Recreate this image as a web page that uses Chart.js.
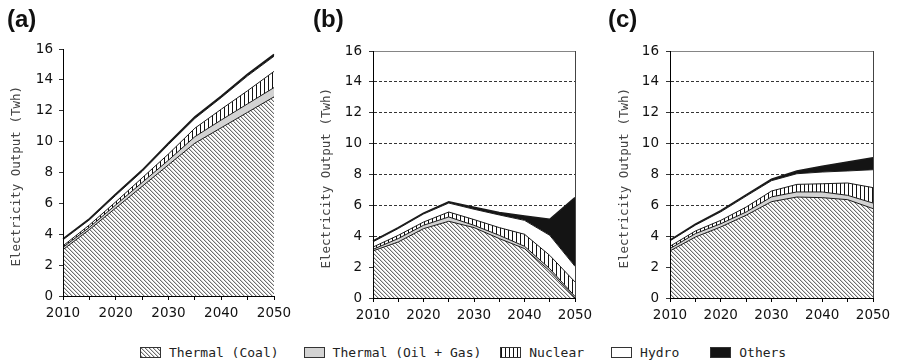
<!DOCTYPE html>
<html>
<head>
<meta charset="utf-8">
<script src="https://cdn.jsdelivr.net/npm/chart.js@4.4.1/dist/chart.umd.min.js"></script>
<style>
  html, body { margin: 0; padding: 0; background: #fff; }
  #wrap { position: relative; width: 898px; height: 364px; overflow: hidden; background: #fff; }
  canvas.plot { position: absolute; top: 0; }
  .tag { position: absolute; top: 7px; font: bold 24px "Liberation Sans", Arial, sans-serif; line-height: 24px; color: #111; }
  #legend { position: absolute; left: 140px; top: 344px; height: 16px; display: flex; align-items: center;
            font: 13px "DejaVu Sans Mono", monospace; color: #222; white-space: pre; }
  #legend .item { display: flex; align-items: center; }
  #legend canvas { border: 1px solid #333; margin-right: 8px; }
</style>
</head>
<body>
<div id="wrap">
  <canvas id="chartA" class="plot" width="300" height="330" style="left:0px"></canvas>
  <canvas id="chartB" class="plot" width="300" height="330" style="left:300px"></canvas>
  <canvas id="chartC" class="plot" width="298" height="330" style="left:600px"></canvas>
  <div class="tag" style="left:7px">(a)</div>
  <div class="tag" style="left:313px">(b)</div>
  <div class="tag" style="left:608px">(c)</div>
  <div id="legend"></div>
</div>
<script>
// Years on the horizontal axis (every 5 years, labelled every 10)
const years = ['2010', '2015', '2020', '2025', '2030', '2035', '2040', '2045', '2050'];
const seriesNames = ['Thermal (Coal)', 'Thermal (Oil + Gas)', 'Nuclear', 'Hydro', 'Others'];
const axisTitle = 'Electricity Output (Twh)';

// Scenario (a) — TWh by source
const coalA    = [3.00, 4.30, 5.70, 7.10, 8.50, 9.90, 10.90, 11.90, 12.90];
const oilGasA  = [0.15, 0.15, 0.20, 0.25, 0.30, 0.42, 0.50, 0.55, 0.60];
const nuclearA = [0.10, 0.15, 0.20, 0.30, 0.40, 0.55, 0.70, 0.85, 1.05];
const hydroA   = [0.39, 0.33, 0.42, 0.42, 0.61, 0.63, 0.75, 0.96, 0.98];
const othersA  = [0.06, 0.07, 0.08, 0.08, 0.09, 0.10, 0.10, 0.12, 0.12];

// Scenario (b)
const coalB    = [3.05, 3.63, 4.49, 4.97, 4.56, 3.85, 3.20, 1.75, 0.00];
const oilGasB  = [0.10, 0.22, 0.22, 0.28, 0.15, 0.21, 0.15, 0.15, 0.10];
const nuclearB = [0.15, 0.21, 0.21, 0.32, 0.37, 0.50, 0.78, 0.86, 0.94];
const hydroB   = [0.34, 0.44, 0.52, 0.58, 0.67, 0.82, 0.90, 1.30, 1.01];
const othersB  = [0.05, 0.06, 0.06, 0.08, 0.12, 0.16, 0.28, 1.04, 4.45];

// Scenario (c)
const coalC    = [3.05, 3.95, 4.60, 5.36, 6.24, 6.54, 6.50, 6.37, 5.79];
const oilGasC  = [0.15, 0.22, 0.21, 0.21, 0.31, 0.33, 0.37, 0.28, 0.36];
const nuclearC = [0.15, 0.17, 0.22, 0.32, 0.38, 0.49, 0.53, 0.80, 1.00];
const hydroC   = [0.35, 0.38, 0.55, 0.71, 0.67, 0.69, 0.76, 0.78, 1.16];
const othersC  = [0.05, 0.06, 0.07, 0.08, 0.10, 0.18, 0.37, 0.58, 0.78];

// Fill patterns: diagonal hatch for coal, vertical bars for nuclear
function makePattern(ctx, kind) {
  const n = 4;
  const t = document.createElement('canvas');
  t.width = n; t.height = n;
  const g = t.getContext('2d');
  g.fillStyle = '#fff';
  g.fillRect(0, 0, n, n);
  if (kind === 'diag') {
    for (let i = 0; i < n; i++) {
      g.fillStyle = '#6e6e6e';
      g.fillRect(i, i, 1, 1);
      g.fillStyle = '#d2d2d2';
      g.fillRect((i + 1) % n, i, 1, 1);
    }
  } else if (kind === 'vert') {
    g.fillStyle = '#111';
    g.fillRect(0, 0, 1, n);
  }
  return ctx.createPattern(t, 'repeat');
}
function fillsFor(ctx) {
  return [makePattern(ctx, 'diag'), '#d3d3d3', makePattern(ctx, 'vert'), '#ffffff', '#141414'];
}

// Right-hand frame line for the gridded panels
const framePlugin = {
  id: 'frame',
  afterDatasetsDraw(chart, args, opts) {
    if (!opts.show) return;
    const { ctx, chartArea: a } = chart;
    ctx.save();
    ctx.strokeStyle = '#444';
    ctx.lineWidth = 1;
    ctx.beginPath();
    ctx.moveTo(Math.round(a.right) + 0.5, a.top);
    ctx.lineTo(Math.round(a.right) + 0.5, a.bottom);
    ctx.stroke();
    ctx.restore();
  }
};

const tickFont = { family: 'DejaVu Sans', size: 13.5 };

function buildChart(id, series, o) {
  const ctx = document.getElementById(id).getContext('2d');
  const fills = fillsFor(ctx);
  const datasets = series.map((data, i) => ({
    label: seriesNames[i],
    data: data,
    fill: i === 0 ? 'origin' : '-1',
    backgroundColor: fills[i],
    borderColor: '#1a1a1a',
    borderWidth: i === 4 ? 1.6 : 1,
    pointRadius: 0,
    tension: 0
  }));
  return new Chart(ctx, {
    type: 'line',
    data: { labels: years, datasets: datasets },
    plugins: [framePlugin],
    options: {
      responsive: false,
      animation: false,
      devicePixelRatio: 1,
      events: [],
      layout: { padding: { left: 0, right: o.right, top: o.top, bottom: 0 } },
      plugins: {
        legend: { display: false },
        tooltip: { enabled: false },
        frame: { show: o.grid }
      },
      scales: {
        x: {
          type: 'category',
          offset: false,
          grid: { display: true, drawOnChartArea: false, drawTicks: true, tickLength: 4, tickColor: '#000', tickWidth: 1 },
          border: { display: true, color: '#000', width: 1, z: 1 },
          ticks: {
            autoSkip: false, maxRotation: 0, minRotation: 0, padding: 5,
            color: '#111', font: tickFont,
            callback(value, index) { return index % 2 === 0 ? this.getLabelForValue(value) : ''; }
          },
          afterFit(scale) { scale.height = o.xh; }
        },
        y: {
          stacked: true,
          min: 0, max: 16,
          ticks: { stepSize: 2, padding: o.tickPad, color: '#111', font: tickFont },
          grid: {
            display: true,
            drawOnChartArea: o.grid,
            drawTicks: true,
            tickLength: 4,
            tickColor: '#000',
            tickBorderDash: [],
            lineWidth: 0.8,
            color: (c) => (c.tick && c.tick.value === 16) ? '#666' : '#000'
          },
          border: {
            display: true, color: '#000', width: 1, z: 1,
            dash: (c) => (c.tick && c.tick.value === 16) ? [] : [3, 2]
          },
          title: {
            display: true,
            text: axisTitle + ' ',
            color: '#444',
            font: { family: 'DejaVu Sans Mono', size: 12.5 },
            padding: { top: o.titlePad, bottom: 0 }
          },
          afterFit(scale) { scale.width = o.yw; }
        }
      }
    }
  });
}

buildChart('chartA', [coalA, oilGasA, nuclearA, hydroA, othersA],
  { grid: false, top: 49, right: 26, yw: 63, xh: 34, tickPad: 6, titlePad: 9.5 });
buildChart('chartB', [coalB, oilGasB, nuclearB, hydroB, othersB],
  { grid: true, top: 51, right: 25, yw: 73, xh: 32, tickPad: 7, titlePad: 19 });
buildChart('chartC', [coalC, oilGasC, nuclearC, hydroC, othersC],
  { grid: true, top: 51, right: 25, yw: 70, xh: 32, tickPad: 7, titlePad: 17 });

// Shared legend below the three panels
(function () {
  const legend = document.getElementById('legend');
  const gaps = [25, 19, 27, 31, 0];
  seriesNames.forEach((name, i) => {
    const item = document.createElement('div');
    item.className = 'item';
    item.style.marginRight = gaps[i] + 'px';
    const sw = document.createElement('canvas');
    sw.width = 19; sw.height = 9;
    const sctx = sw.getContext('2d');
    sctx.fillStyle = fillsFor(sctx)[i];
    sctx.fillRect(0, 0, sw.width, sw.height);
    const label = document.createElement('span');
    label.textContent = name;
    item.appendChild(sw);
    item.appendChild(label);
    legend.appendChild(item);
  });
})();
</script>
</body>
</html>
